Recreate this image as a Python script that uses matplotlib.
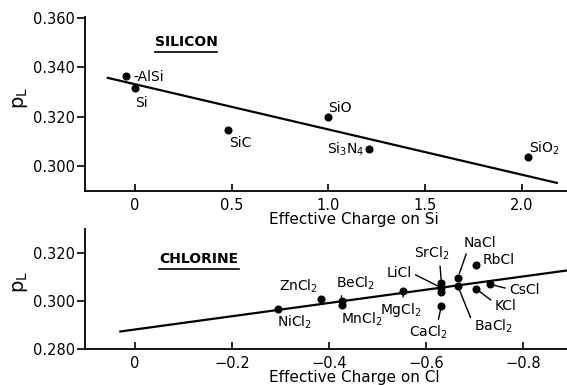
import matplotlib
matplotlib.use("Agg")
import matplotlib.pyplot as plt
from matplotlib.lines import Line2D

# ---------------- data ----------------
si_names = ["-AlSi", "Si", "SiC", "SiO", r"Si$_3$N$_4$", r"SiO$_2$"]
si_charge = [-0.047, 0.0, 0.48, 1.00, 1.21, 2.03]
si_pL = [0.3366, 0.3317, 0.3146, 0.3199, 0.3069, 0.3037]
si_fit_x = [-0.14, 2.18]
si_fit_y = [0.3357, 0.2931]

cl_names = [r"NiCl$_2$", r"ZnCl$_2$", r"BeCl$_2$", r"MnCl$_2$", r"MgCl$_2$",
            "LiCl", r"SrCl$_2$", "", r"CaCl$_2$", "NaCl", r"BaCl$_2$",
            "RbCl", "KCl", "CsCl"]
cl_charge = [-0.295, -0.384, -0.426, -0.426, -0.553,
             -0.632, -0.632, -0.632, -0.632, -0.666, -0.666,
             -0.703, -0.703, -0.733]
cl_pL = [0.2965, 0.3009, 0.2999, 0.2985, 0.3041,
         0.3055, 0.3073, 0.3037, 0.2981, 0.3097, 0.3062,
         0.3152, 0.3051, 0.3069]
cl_fit_x = [0.03, -0.89]
cl_fit_y = [0.2873, 0.3127]

si_xticks = [0, 0.5, 1.0, 1.5, 2.0]
si_xticklabels = ["0", "0.5", "1.0", "1.5", "2.0"]
si_yticks = [0.300, 0.320, 0.340, 0.360]
si_yticklabels = ["0.300", "0.320", "0.340", "0.360"]
cl_xticks = [0, -0.2, -0.4, -0.6, -0.8]
cl_xticklabels = ["0", "\u22120.2", "\u22120.4", "\u22120.6", "\u22120.8"]
cl_yticks = [0.280, 0.300, 0.320]
cl_yticklabels = ["0.280", "0.300", "0.320"]

# ---------------- layout (label offsets in pixels: dx, dy, ha, leader relpos) ----------------
si_layout = [
    (8, -5, "left", None),
    (0, -19, "left", None),
    (1, -17, "left", None),
    (0, 5, "left", None),
    (-5, -5, "right", None),
    (1, 4, "left", None),
]
cl_layout = [
    (-1, -17, "left", None),
    (-3, 8, "right", None),
    (-6, 14, "left", (0.15, -0.1)),
    (-1, -19, "left", None),
    (-23, -23, "left", (0.55, 1.0)),
    (-30, 11, "right", (1.0, 0.5)),
    (-27, 26, "left", (0.72, -0.1)),
    (0, 0, "left", None),
    (-32, -31, "left", (0.72, 1.0)),
    (6, 31, "left", (0.1, -0.1)),
    (16, -44, "left", (0.0, 0.5)),
    (7, 1, "left", (0.0, 0.5)),
    (19, -21, "left", (0.0, 0.7)),
    (19, -10, "left", (0.0, 0.6)),
]

W, H = 567, 385
fig = plt.figure(figsize=(W / 100, H / 100), dpi=100)
fig.patch.set_facecolor("white")

plt.rcParams["font.family"] = ["DejaVu Sans"]
plt.rcParams["mathtext.default"] = "regular"

ax1 = fig.add_axes([85 / W, 1 - 191 / H, (W - 85) / W, (191 - 17) / H])
ax2 = fig.add_axes([85 / W, 1 - 349 / H, (W - 85) / W, (349 - 229) / H])

LABEL_FS = 10
TICK_FS = 10.5


def style(ax):
    for s in ["top", "right"]:
        ax.spines[s].set_visible(False)
    for s in ["left", "bottom"]:
        ax.spines[s].set_linewidth(1.3)
    ax.tick_params(axis="x", direction="in", length=5, width=1.2,
                   labelsize=TICK_FS, pad=5)
    ax.tick_params(axis="y", direction="out", length=6, width=1.2,
                   labelsize=TICK_FS, pad=1)
    ax.set_facecolor("white")


def add_points(ax, xs, ys, names, layout):
    ax.plot(xs, ys, "o", color="black", markersize=4.8, zorder=3)
    for x, y, name, (dx, dy, ha, rp) in zip(xs, ys, names, layout):
        if not name:
            continue
        kw = {}
        if rp is not None:
            kw["arrowprops"] = dict(arrowstyle="-", lw=1.0, color="black",
                                    shrinkA=1, shrinkB=3, relpos=rp)
        ax.annotate(name, (x, y), xytext=(dx, dy), textcoords="offset pixels",
                    ha=ha, va="baseline", fontsize=LABEL_FS, **kw)


# Silicon panel
style(ax1)
ax1.plot(si_fit_x, si_fit_y, color="black", lw=1.6)
add_points(ax1, si_charge, si_pL, si_names, si_layout)
ax1.set_xlim(-0.258, 2.233)
ax1.set_ylim(0.2898, 0.3604)
ax1.set_xticks(si_xticks)
ax1.set_xticklabels(si_xticklabels)
ax1.set_yticks(si_yticks)
ax1.set_yticklabels(si_yticklabels)
ax1.set_xlabel("Effective Charge on Si", fontsize=11, va="top")
ax1.xaxis.set_label_coords((354 - 85) / (W - 85), -(212 - 191) / (191 - 17))
ax1.set_ylabel(r"$\mathregular{p_L}$", fontsize=14)
ax1.yaxis.set_label_coords(-0.114, 0.534)
t1 = ax1.text((186 - 85) / (W - 85), 1 - (42 - 17) / (191 - 17), "SILICON",
              transform=ax1.transAxes, ha="center", va="center",
              fontsize=10, fontweight="bold")

# Chlorine panel
style(ax2)
ax2.plot(cl_fit_x, cl_fit_y, color="black", lw=1.6)
add_points(ax2, cl_charge, cl_pL, cl_names, cl_layout)
ax2.set_xlim(0.103, -0.891)
ax2.set_ylim(0.280, 0.330)
ax2.set_xticks(cl_xticks)
ax2.set_xticklabels(cl_xticklabels)
ax2.set_yticks(cl_yticks)
ax2.set_yticklabels(cl_yticklabels)
ax2.set_xlabel("Effective Charge on Cl", fontsize=11, va="top")
ax2.xaxis.set_label_coords((354 - 85) / (W - 85), -(370 - 349) / (349 - 229))
ax2.set_ylabel(r"$\mathregular{p_L}$", fontsize=14)
ax2.yaxis.set_label_coords(-0.114, 0.558)
t2 = ax2.text((199 - 85) / (W - 85), 1 - (259 - 229) / (349 - 229), "CHLORINE",
              transform=ax2.transAxes, ha="center", va="center",
              fontsize=10, fontweight="bold")

# underline the panel titles
fig.canvas.draw()
r = fig.canvas.get_renderer()
for t in (t1, t2):
    bb = t.get_window_extent(r).transformed(fig.transFigure.inverted())
    y = bb.y0 - 2.5 / H
    fig.add_artist(Line2D([bb.x0, bb.x1], [y, y], color="black", lw=1.2,
                          transform=fig.transFigure))

fig.savefig("out.png", dpi=100, facecolor="white")
